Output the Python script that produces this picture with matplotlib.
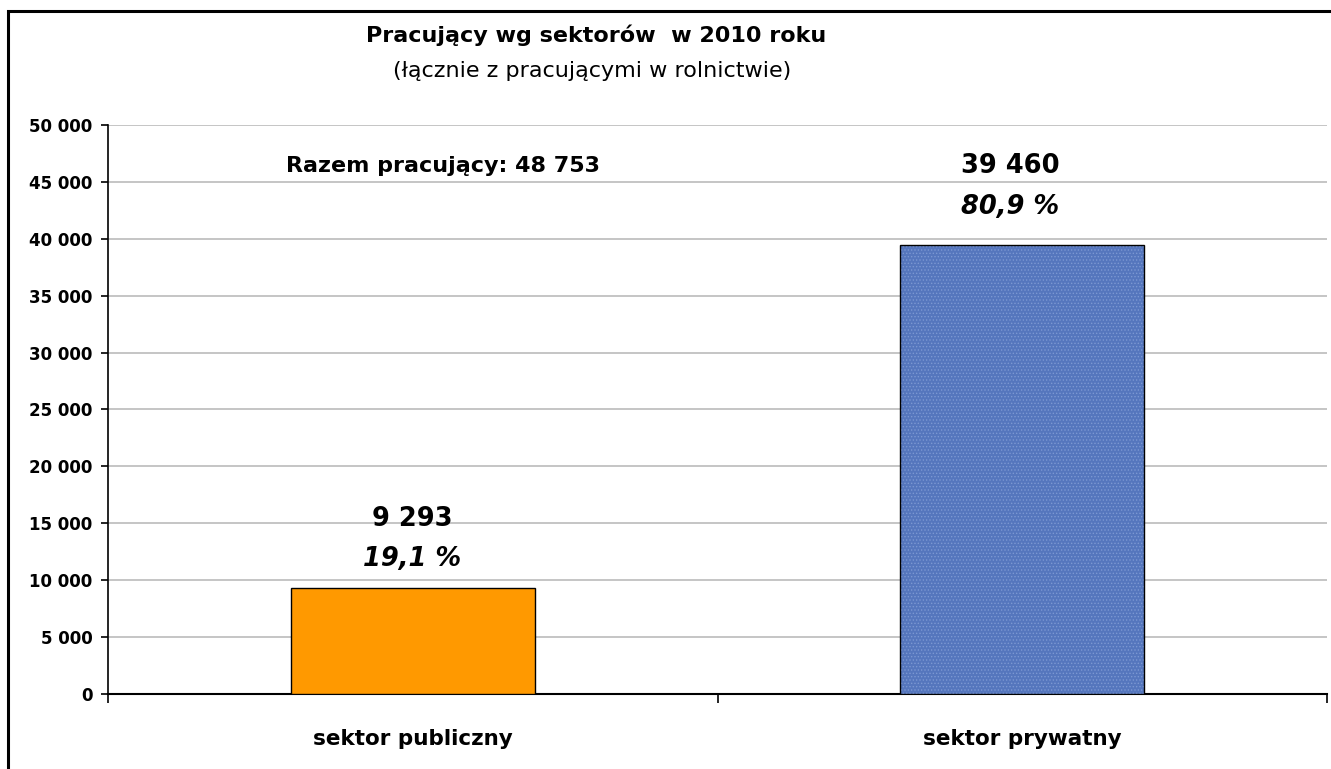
#!/usr/bin/env python3
"""Employed persons by sector, 2010 (incl. agriculture)."""

import matplotlib

matplotlib.use("Agg")

import matplotlib.pyplot as plt
from matplotlib.patches import Rectangle
from matplotlib.ticker import FuncFormatter


CATEGORIES = ["sektor publiczny", "sektor prywatny"]
EMPLOYED = [9293, 39460]
SHARE_PCT = ["19,1 %", "80,9 %"]
TOTAL_LABEL = "Razem pracujący: 48 753"
TITLE = "Pracujący wg sektorów  w 2010 roku"
SUBTITLE = "(łącznie z pracującymi w rolnictwie)"
Y_TICKS = list(range(0, 50001, 5000))

BAR_COLORS = ["#ff9900", "#5576bd"]


def thousands(value, _pos=None) -> str:
    return f"{int(value):,}".replace(",", " ")


def main() -> None:
    plt.rcParams["font.family"] = "DejaVu Sans"
    plt.rcParams["hatch.linewidth"] = 0.6

    fig = plt.figure(figsize=(13.31, 7.69), dpi=100)
    ax = fig.add_axes([108 / 1331, 1 - 694 / 769, (1327 - 108) / 1331, (694 - 125) / 769])

    xs = list(range(len(CATEGORIES)))
    bars = ax.bar(xs, EMPLOYED, width=0.4, color=BAR_COLORS, edgecolor="black", linewidth=1.0, zorder=3)
    # stippled texture on the private sector bar
    bars[1].set_hatch(".....")
    bars[1].set_edgecolor("#7c98d2")
    bars[1].set_linewidth(0)
    ax.bar(xs[1], EMPLOYED[1], width=0.4, fill=False, edgecolor="black", linewidth=1.0, zorder=4)

    ax.set_xlim(-0.5, len(CATEGORIES) - 0.5)
    ax.set_ylim(0, Y_TICKS[-1])
    ax.set_yticks(Y_TICKS)
    ax.yaxis.set_major_formatter(FuncFormatter(thousands))
    ax.grid(axis="y", color="#c0c0c0", linewidth=1.3, zorder=0)
    ax.set_axisbelow(True)

    # category boundaries as major ticks, names as minor ticks
    ax.set_xticks([x - 0.5 for x in xs] + [xs[-1] + 0.5])
    ax.set_xticklabels([])
    ax.set_xticks(xs, minor=True)
    ax.set_xticklabels(CATEGORIES, minor=True, fontsize=15.5, fontweight="bold")
    ax.tick_params(axis="x", which="major", direction="out", length=6.5, width=1.2)
    ax.tick_params(axis="x", which="minor", length=0, pad=25)
    ax.tick_params(axis="y", direction="out", length=5, width=1.2, pad=6, labelsize=12)
    for label in ax.get_yticklabels():
        label.set_fontweight("bold")

    for side in ("top", "right"):
        ax.spines[side].set_visible(False)
    ax.spines["left"].set_linewidth(1.2)
    ax.spines["bottom"].set_linewidth(1.5)

    # (dx, dy value, dy percent) in points from the bar top
    label_offsets = [(-0.7, 50, 21), (-8.6, 57, 27)]
    for x, value, pct, (dx, off_val, off_pct) in zip(xs, EMPLOYED, SHARE_PCT, label_offsets):
        ax.annotate(thousands(value), (x, value), xytext=(dx, off_val), textcoords="offset points",
                    ha="center", va="center", fontsize=18.5, fontweight="bold")
        ax.annotate(pct, (x, value), xytext=(dx, off_pct), textcoords="offset points",
                    ha="center", va="center", fontsize=18.5, fontweight="bold", fontstyle="italic")

    fig.text(442.5 / 1331, 1 - 166 / 769, TOTAL_LABEL, ha="center", va="center", fontsize=16, fontweight="bold")
    fig.text(596 / 1331, 1 - 35 / 769, TITLE, ha="center", va="center", fontsize=16, fontweight="bold")
    fig.text(592 / 1331, 1 - 71 / 769, SUBTITLE, ha="center", va="center", fontsize=16)

    # chart-area frame, only left and top edges are inside the image
    frame = Rectangle((8 / 1331, -0.1), 1.2, 1.1 - 11 / 769, transform=fig.transFigure,
                      fill=False, edgecolor="black", linewidth=2.2)
    fig.patches.append(frame)

    fig.savefig("out.png", dpi=100)
    plt.close(fig)


if __name__ == "__main__":
    main()
